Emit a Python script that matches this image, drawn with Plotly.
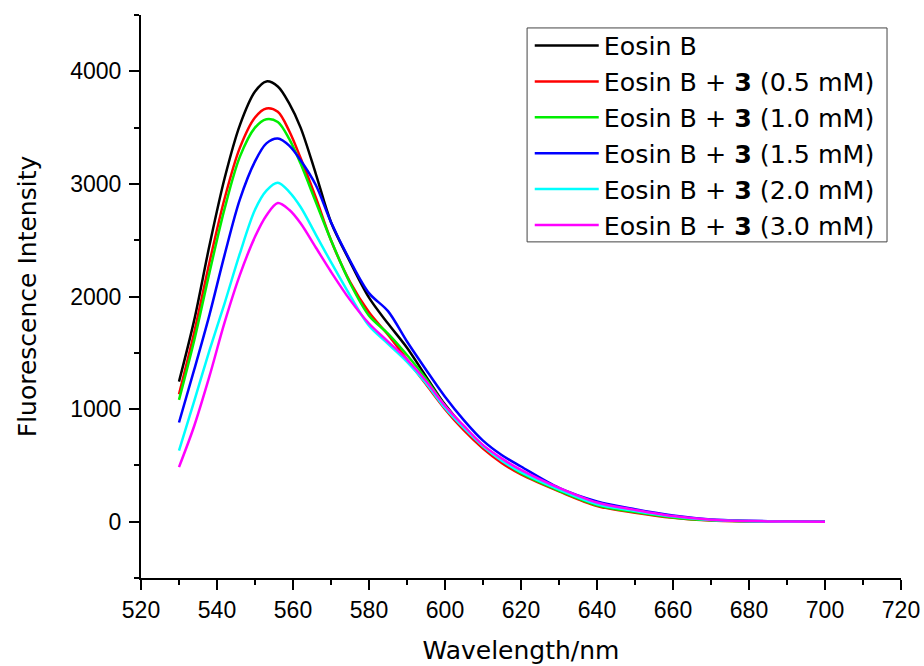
import plotly.graph_objects as go

wavelength = [530, 534, 538, 542, 546, 550, 553, 556, 559, 562, 566, 570, 575, 580, 585,
              590, 595, 600, 605, 610, 615, 620, 630, 640, 650, 660, 670, 680, 690, 700]

eosin_b = [1244, 1790, 2450, 3050, 3520, 3820, 3910, 3865, 3715, 3500, 3090, 2660, 2310, 1990, 1760,
           1545, 1290, 1040, 840, 675, 550, 450, 290, 160, 95, 45, 15, 5, 0, 0]
eosin_b_05 = [1132, 1680, 2300, 2870, 3320, 3590, 3670, 3640, 3470, 3230, 2880, 2500, 2130, 1860, 1660,
              1440, 1220, 1000, 810, 650, 520, 420, 270, 140, 80, 35, 10, 3, 0, 0]
eosin_b_10 = [1082, 1610, 2210, 2780, 3240, 3500, 3575, 3550, 3400, 3180, 2840, 2500, 2120, 1830, 1670,
              1480, 1270, 1030, 840, 670, 545, 430, 275, 145, 85, 38, 12, 3, 0, 0]
eosin_b_15 = [881, 1350, 1835, 2370, 2860, 3200, 3360, 3403, 3340, 3210, 2990, 2660, 2320, 2030, 1870,
              1600, 1350, 1110, 900, 720, 590, 490, 300, 180, 110, 55, 20, 8, 2, 0]
eosin_b_20 = [632, 1070, 1520, 1940, 2380, 2770, 2940, 3010, 2930, 2795, 2550, 2305, 2010, 1740, 1580,
              1420, 1230, 1010, 830, 670, 540, 440, 285, 155, 95, 45, 15, 5, 0, 0]
eosin_b_30 = [485, 850, 1290, 1770, 2190, 2530, 2720, 2830, 2770, 2650, 2435, 2220, 1970, 1760, 1600,
              1440, 1250, 1030, 850, 680, 560, 460, 300, 170, 105, 50, 18, 6, 1, 0]

series_names = ["Eosin B",
                "Eosin B + <b>3</b> (0.5 mM)",
                "Eosin B + <b>3</b> (1.0 mM)",
                "Eosin B + <b>3</b> (1.5 mM)",
                "Eosin B + <b>3</b> (2.0 mM)",
                "Eosin B + <b>3</b> (3.0 mM)"]
series_values = [eosin_b, eosin_b_05, eosin_b_10, eosin_b_15, eosin_b_20, eosin_b_30]
colors = ["#000000", "#ff0000", "#00ee00", "#0000ff", "#00ffff", "#ff00ff"]

x_ticks = [520, 540, 560, 580, 600, 620, 640, 660, 680, 700, 720]
y_ticks = [0, 1000, 2000, 3000, 4000]

fig = go.Figure()
for name, vals, col in zip(series_names, series_values, colors):
    fig.add_trace(go.Scatter(x=wavelength, y=vals, name=name, mode="lines",
                             line=dict(color=col, width=2.5, shape="spline", smoothing=0.9)))

TICKFONT = "Liberation Sans, Arial, sans-serif"
TEXTFONT = "DejaVu Sans, Liberation Sans, Arial, sans-serif"
fig.update_layout(
    width=924, height=666,
    margin=dict(l=141, r=23, t=15, b=88, autoexpand=False),
    paper_bgcolor="white", plot_bgcolor="white",
    font=dict(family=TICKFONT, color="black", size=23),
    showlegend=True,
    legend=dict(x=0.5115, y=0.9865, xanchor="left", yanchor="top",
                bgcolor="rgba(0,0,0,0)", borderwidth=0,
                font=dict(family=TEXTFONT, size=25.3, color="black"),
                itemwidth=64, tracegroupgap=0),
    shapes=[dict(type="rect", xref="paper", yref="paper",
                 x0=0.508, x1=0.9816, y0=0.597, y1=0.977,
                 line=dict(color="#444444", width=1), fillcolor="white", layer="below")],
)
fig.update_xaxes(range=[520, 720], tickvals=x_ticks, ticktext=[str(v) for v in x_ticks],
                 automargin=False,
                 showgrid=False, zeroline=False, showline=True, linecolor="black", linewidth=2,
                 ticks="outside", ticklen=10, tickwidth=2, tickcolor="black",
                 ticklabelstandoff=0,
                 minor=dict(dtick=10, tick0=520, ticks="outside", ticklen=5, tickwidth=2, tickcolor="black"),
                 title=dict(text="Wavelength/nm", font=dict(family=TEXTFONT, size=25), standoff=20))
fig.update_yaxes(range=[-500, 4500], tickvals=y_ticks, ticktext=[str(v) for v in y_ticks],
                 automargin=False,
                 showgrid=False, zeroline=False, showline=True, linecolor="black", linewidth=2,
                 ticks="outside", ticklen=10, tickwidth=2, tickcolor="black",
                 ticklabelstandoff=3,
                 minor=dict(dtick=500, tick0=0, ticks="outside", ticklen=5, tickwidth=2, tickcolor="black"),
                 title=dict(text="Fluorescence Intensity", font=dict(family=TEXTFONT, size=25), standoff=26))

fig.write_html("out.html", config={"displayModeBar": False},
               post_script="document.body.style.margin='0';")
